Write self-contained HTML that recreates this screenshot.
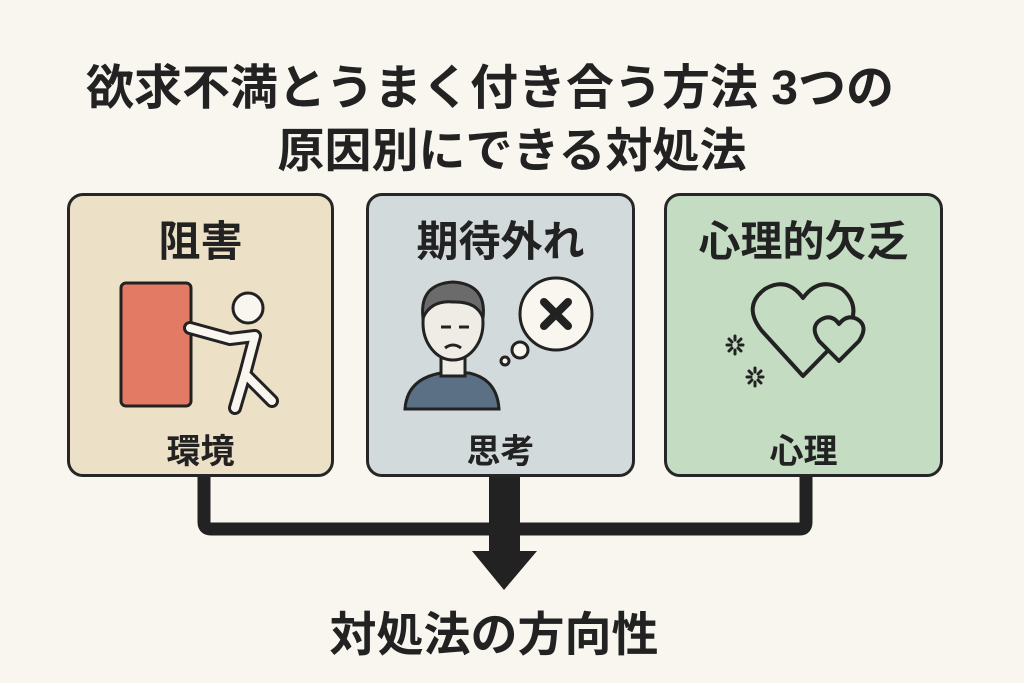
<!DOCTYPE html>
<html><head><meta charset="utf-8"><style>
body{margin:0;width:1024px;height:683px;background:#f8f6ef;overflow:hidden;position:relative;font-family:"Liberation Sans","Noto Sans CJK JP",sans-serif;color:#222;}
.t{position:absolute;left:0;width:1024px;text-align:center;font-weight:bold;white-space:nowrap}
.box{position:absolute;top:193px;height:278px;border:3px solid #262626;border-radius:16px;}
.h{position:absolute;left:0;right:0;text-align:center;font-weight:bold;font-size:42px;top:12px}
.l{position:absolute;left:0;right:0;text-align:center;font-weight:bold;font-size:34px;top:228px}
</style></head><body>
<div class="t" style="top:48px;font-size:48px;left:-22px">欲求不満とうまく付き合う方法 3つの</div>
<div class="t" style="top:112px;font-size:47px;">原因別にできる対処法</div>

<svg width="1024" height="683" style="position:absolute;left:0;top:0">
<path d="M204 470 V522 Q204 529 211 529 H800 Q806 529 806 522 V470" fill="none" stroke="#222" stroke-width="13"/>
<rect x="489" y="470" width="31" height="82" fill="#222"/>
<polygon points="472,551 537,551 504,590" fill="#222"/>
</svg>

<div class="box" style="left:67px;width:261px;background:#ece0c6">
<div class="h">阻害</div>
<div class="l">環境</div>
<svg width="261" height="280" style="position:absolute;left:0;top:0">
<rect x="51" y="87" width="70" height="123" rx="5" fill="#e37b64" stroke="#222" stroke-width="3"/>
<circle cx="178" cy="112" r="15" fill="#f8f6ef" stroke="#222" stroke-width="3"/>
<path d="M120 132 L160 143 L185 140 L175 178 L165 212 M175 178 L202 205" fill="none" stroke="#222" stroke-width="14" stroke-linecap="round" stroke-linejoin="round"/>
<path d="M120 132 L160 143 L185 140 L175 178 L165 212 M175 178 L202 205" fill="none" stroke="#f8f6ef" stroke-width="8" stroke-linecap="round" stroke-linejoin="round"/>
</svg>
</div>

<div class="box" style="left:366px;width:263px;background:#d3dadc">
<div class="h">期待外れ</div>
<div class="l">思考</div>
<svg width="263" height="280" style="position:absolute;left:0;top:0">
<path d="M36 213 Q38 183 72 177 L100 177 Q128 183 130 213 Z" fill="#5b6f85" stroke="#222" stroke-width="3"/>
<rect x="72" y="155" width="24" height="25" fill="#efece6" stroke="#222" stroke-width="3"/>
<ellipse cx="84" cy="127" rx="30" ry="37" fill="#efece6" stroke="#222" stroke-width="3"/>
<path d="M54 122 Q50 88 84 86 Q118 88 114 122 Q108 105 84 106 Q62 104 54 122Z" fill="#6b6b6b" stroke="#222" stroke-width="3"/>
<path d="M72 131 h10 M90 131 h10 M76 152 q8 -6 16 0" fill="none" stroke="#222" stroke-width="3"/>
<circle cx="187" cy="118" r="36" fill="#f8f6ef" stroke="#222" stroke-width="3"/>
<circle cx="151" cy="154" r="8" fill="#f8f6ef" stroke="#222" stroke-width="3"/>
<circle cx="136" cy="165" r="4" fill="#f8f6ef" stroke="#222" stroke-width="3"/>
<path d="M175 106 L199 130 M199 106 L175 130" stroke="#222" stroke-width="8" stroke-linecap="round"/>
</svg>
</div>

<div class="box" style="left:664px;width:273px;background:#c4dcc2">
<div class="h">心理的欠乏</div>
<div class="l">心理</div>
<svg width="273" height="280" style="position:absolute;left:0;top:0">
<path d="M136 180 L95 135 Q75 110 98 93 Q120 80 136 102 Q152 80 175 93 Q195 110 180 135 Z" fill="none" stroke="#222" stroke-width="4" stroke-linejoin="round"/>
<path d="M172 165 L152 145 Q142 130 155 123 Q165 118 172 128 Q180 118 190 123 Q202 130 192 145 Z" fill="#c4dcc2" stroke="#222" stroke-width="4" stroke-linejoin="round"/>
<g stroke="#222" stroke-width="3" stroke-linecap="round">
<path d="M68 140v4M68 154v4M60 149h4M72 149h4M62 143l3 3M71 152l3 3M74 143l-3 3M62 155l3 -3"/>
<path d="M88 172v4M88 186v4M80 181h4M92 181h4M82 175l3 3M91 184l3 3M94 175l-3 3M82 187l3 -3"/>
</g>
</svg>
</div>

<div class="t" style="top:596px;font-size:47px;left:-18px">対処法の方向性</div>
</body></html>
